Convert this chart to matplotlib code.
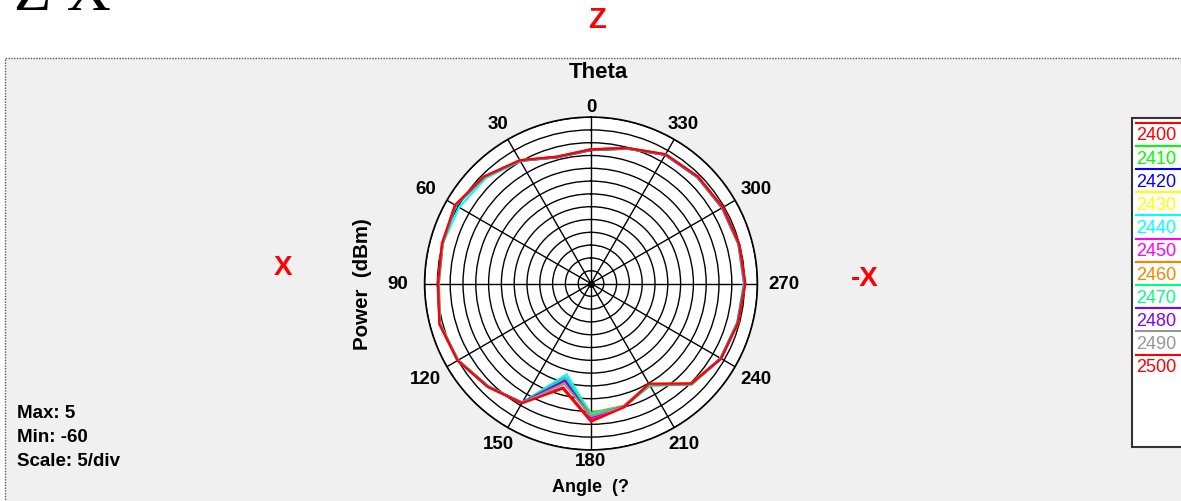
import numpy as np
import matplotlib
matplotlib.use("Agg")
import matplotlib.pyplot as plt
from matplotlib.patches import Rectangle
from matplotlib.lines import Line2D

# ---------------- data ----------------
angles_deg = [0, 15, 30, 45, 60, 75, 90, 105, 120, 135, 150, 165,
              180, 195, 210, 225, 240, 255, 270, 285, 300, 315, 330, 345]

freqs = ["2400", "2410", "2420", "2430", "2440", "2450",
         "2460", "2470", "2480", "2490", "2500"]

colors = ["#FF0000", "#00FF00", "#0000FF", "#FFFF00", "#00FFFF", "#FF00FF",
          "#FF8000", "#00FF80", "#8000FF", "#969696", "#FF0000"]

p2400 = [-7.6, -8.8, -4.5, -1.0, 1.3, 0.2, -0.2, 1.3, 0.2, -3.0, -6.1, -18.0,
         -6.5, -10.0, -14.5, -4.6, -1.4, -0.6, 0.2, -0.2, -0.6, -1.0, -1.8, -5.3]
p2410 = [-7.8, -8.9, -4.7, -1.2, 1.1, 0.1, -0.4, 1.2, 0.0, -3.1, -6.2, -20.5,
         -8.5, -10.3, -14.0, -4.3, -1.5, -0.7, 0.0, -0.3, -0.7, -1.1, -1.9, -5.4]
p2420 = [-7.9, -9.0, -4.6, -1.1, 1.0, 0.0, -0.5, 1.1, 0.1, -3.2, -6.0, -21.5,
         -8.0, -10.2, -14.2, -4.5, -1.3, -0.8, -0.1, -0.4, -0.9, -1.3, -2.0, -5.5]
p2430 = [-7.5, -8.7, -4.4, -1.0, 1.2, 0.1, -0.6, 1.0, 0.0, -3.0, -6.1, -21.0,
         -9.0, -10.4, -14.6, -4.7, -1.6, -0.5, -0.2, -0.5, -0.6, -1.0, -1.7, -5.2]
p2440 = [-7.7, -8.9, -4.8, -1.8, -0.5, 0.0, -0.3, 1.2, 0.1, -3.1, -6.3, -23.3,
         -8.8, -10.1, -14.1, -4.4, -1.4, -0.9, -0.3, -0.3, -0.8, -1.2, -1.8, -5.4]
p2450 = [-7.6, -8.8, -4.6, -1.1, 1.2, 0.1, -0.4, 1.2, 0.0, -3.0, -6.2, -22.0,
         -7.5, -10.0, -14.4, -4.6, -1.5, -0.6, -0.1, -0.2, -0.7, -1.1, -1.9, -5.3]
p2460 = [-7.7, -8.8, -4.5, -1.1, 1.1, 0.0, -0.5, 1.1, 0.0, -3.1, -6.1, -20.0,
         -9.5, -10.5, -14.7, -4.8, -1.5, -0.7, 0.1, -0.3, -0.6, -1.0, -1.8, -5.2]
p2470 = [-7.8, -8.9, -4.6, -1.2, 1.1, 0.0, -0.4, 1.1, -0.1, -3.2, -6.2, -21.8,
         -9.2, -10.2, -13.9, -4.3, -1.6, -0.8, -0.1, -0.4, -0.8, -1.2, -1.9, -5.4]
p2480 = [-7.7, -8.9, -4.6, -1.1, 1.2, 0.1, -0.3, 1.2, 0.0, -3.1, -6.2, -20.8,
         -7.8, -10.3, -14.3, -4.5, -1.5, -0.7, 0.0, -0.3, -0.8, -1.1, -1.9, -5.3]
p2490 = [-7.6, -8.8, -4.6, -1.1, 1.2, 0.1, -0.3, 1.2, 0.0, -3.0, -6.1, -19.5,
         -8.2, -10.1, -14.3, -4.5, -1.4, -0.6, 0.1, -0.2, -0.7, -1.0, -1.8, -5.3]
p2500 = [-7.6, -8.7, -4.4, -0.9, 1.3, 0.3, -0.2, 1.3, 0.2, -2.9, -6.0, -17.5,
         -6.0, -10.0, -14.8, -4.7, -1.3, -0.5, 0.3, -0.1, -0.5, -0.9, -1.7, -5.2]

series = [p2400, p2410, p2420, p2430, p2440, p2450,
          p2460, p2470, p2480, p2490, p2500]

r_max, r_min, r_step = 5, -60, 5
angle_labels = list(range(0, 360, 30))

# ---------------- figure ----------------
W, H = 1181, 502
fig = plt.figure(figsize=(W / 100, H / 100), dpi=100)
fig.patch.set_facecolor("white")

def fx(x):
    return x / W

def fy(y):
    return 1 - y / H

FONT = "Liberation Sans"

# gray panel with dotted border
panel = Rectangle((fx(5), fy(515)), fx(1200) - fx(5), fy(59) - fy(515),
                  transform=fig.transFigure, facecolor="#F0F0F0",
                  edgecolor="#555555", linestyle=(0, (1, 1)), linewidth=1.0,
                  zorder=-5)
fig.patches.append(panel)

# big serif heading, mostly cut off at top
fig.text(fx(14), fy(10), "Z X", fontsize=44, family="Liberation Serif",
         color="black", ha="left", va="baseline")

# polar axes
cx, cy, R = 591, 284.5, 166.4
ax = fig.add_axes([fx(cx - R), fy(cy + R), 2 * R / W, 2 * R / H],
                  projection="polar")
ax.set_zorder(5)
ax.set_facecolor("white")
ax.set_theta_zero_location("N")
ax.set_theta_direction(1)
ax.set_ylim(r_min, r_max)
ax.set_yticks(np.arange(r_min + r_step, r_max + 0.1, r_step))
ax.set_yticklabels([])
ax.set_xticks(np.deg2rad(angle_labels))
ax.set_xticklabels([])
ax.grid(True, color="black", linewidth=1.0)
ax.spines["polar"].set_color("black")
ax.spines["polar"].set_linewidth(1.2)
ax.plot([0], [r_min], "o", color="black", markersize=4, zorder=5)

th = np.deg2rad(angles_deg + [angles_deg[0]])
for vals, col in zip(series, colors):
    ax.plot(th, vals + [vals[0]], color=col, linewidth=1.6, zorder=4)

# angle labels
px_per_div = R / ((r_max - r_min) / r_step)
for a in angle_labels:
    t = np.deg2rad(a)
    rpx = 177.5 + 15.5 * abs(np.sin(t))
    rdata = r_min + rpx / px_per_div * r_step
    ax.text(t, rdata, str(a), fontsize=13.5, fontweight="bold", family=FONT,
            ha="center", va="center", clip_on=False)

# titles and labels
fig.text(fx(597), fy(20), "Z", color="red", fontsize=21, fontweight="bold",
         family=FONT, ha="center", va="center")
fig.text(fx(598), fy(73), "Theta", fontsize=16, fontweight="bold",
         family=FONT, ha="center", va="center")
fig.text(fx(283), fy(268), "X", color="red", fontsize=20, fontweight="bold",
         family=FONT, ha="center", va="center")
fig.text(fx(865), fy(279), "-X", color="red", fontsize=20, fontweight="bold",
         family=FONT, ha="center", va="center")
fig.text(fx(363), fy(284), "Power  (dBm)", rotation=90, fontsize=14.8,
         fontweight="bold", family=FONT, ha="center", va="center")
fig.text(fx(590), fy(488), "Angle  (?", fontsize=13, fontweight="bold",
         family=FONT, ha="center", va="center")

fig.text(fx(17), fy(414), "Max: %d" % r_max, fontsize=13.5, fontweight="bold",
         family=FONT, ha="left", va="center")
fig.text(fx(17), fy(438), "Min: %d" % r_min, fontsize=13.5, fontweight="bold",
         family=FONT, ha="left", va="center")
fig.text(fx(17), fy(462), "Scale: %d/div" % r_step, fontsize=13.5,
         fontweight="bold", family=FONT, ha="left", va="center")

# legend box
lbox = Rectangle((fx(1132), fy(448)), fx(1200) - fx(1132), fy(119) - fy(448),
                 transform=fig.transFigure, facecolor="white",
                 edgecolor="#333333", linewidth=1.5, zorder=1)
fig.patches.append(lbox)
for i, (name, col) in enumerate(zip(freqs, colors)):
    yl = 123.5 + i * 23.2
    fig.lines.append(Line2D([fx(1136), fx(1185)], [fy(yl), fy(yl)],
                            transform=fig.transFigure, color=col,
                            linewidth=1.5, zorder=2))
    fig.text(fx(1136), fy(yl + 12.5), name, color=col, fontsize=13,
             family=FONT, ha="left", va="center", zorder=3)

fig.savefig("out.png", dpi=100, facecolor=fig.get_facecolor())
